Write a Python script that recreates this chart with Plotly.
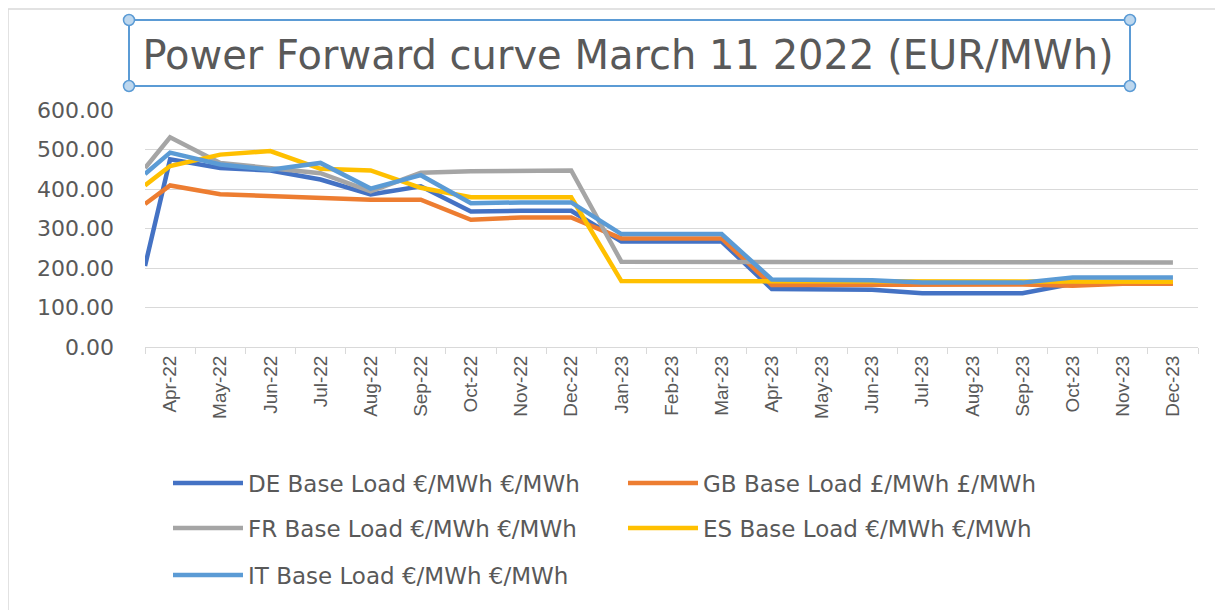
import plotly.graph_objects as go

# ---- data ----
month_labels = ["Apr-22", "May-22", "Jun-22", "Jul-22", "Aug-22", "Sep-22", "Oct-22",
                "Nov-22", "Dec-22", "Jan-23", "Feb-23", "Mar-23", "Apr-23", "May-23",
                "Jun-23", "Jul-23", "Aug-23", "Sep-23", "Oct-23", "Nov-23", "Dec-23"]
# first value is the front (spot) point plotted at the left edge of the axis
de_base = [205, 475, 453, 447, 424, 386, 407, 343, 345, 345, 267, 267, 267, 147, 147, 145, 136, 136, 136, 160, 162, 162]
gb_base = [362, 409, 387, 383, 379, 373, 373, 322, 328, 328, 275, 275, 275, 157, 157, 157, 158, 158, 158, 155, 160, 160]
fr_base = [453, 531, 466, 453, 440, 394, 441, 445, 447, 447, 216, 216, 216, 214, 214, 214, 214, 214, 214, 214, 214, 214]
es_base = [409, 458, 487, 496, 451, 447, 403, 379, 379, 379, 167, 167, 167, 167, 167, 167, 167, 167, 167, 165, 165, 165]
it_base = [438, 492, 462, 449, 466, 401, 435, 364, 366, 366, 286, 286, 286, 171, 171, 169, 163, 163, 163, 176, 176, 176]

series_names = ["DE Base Load €/MWh €/MWh", "GB Base Load £/MWh £/MWh",
                "FR Base Load €/MWh €/MWh", "ES Base Load €/MWh €/MWh",
                "IT Base Load €/MWh €/MWh"]
series_values = [de_base, gb_base, fr_base, es_base, it_base]
colors = ["#4472C4", "#ED7D31", "#A5A5A5", "#FFC000", "#5B9BD5"]
legend_ids = ["legend", "legend", "legend2", "legend2", "legend3"]

cat_index = list(range(len(month_labels)))
x_vals = [-0.5] + cat_index

fig = go.Figure()
for name, vals, col, lg in zip(series_names, series_values, colors, legend_ids):
    fig.add_trace(go.Scatter(x=x_vals, y=vals, mode="lines", name=name,
                             line=dict(color=col, width=4.5), legend=lg))

OFF = 8  # page body margin
W, H = 1223 - 2 * OFF, 610 - OFF
PL, PR, PT, PB = 145, 1198, 110, 347  # plot area in screen pixels
L, R, T = PL - OFF, W - (PR - OFF), PT - OFF
B = H - (PB - OFF)
pw, ph = PR - PL, PB - PT

def px(x):
    return (x - PL) / pw

def py(y):
    return (PB - y) / ph

legend_common = dict(orientation="h", xanchor="left", yanchor="middle",
                     entrywidth=370, entrywidthmode="pixels", itemwidth=70,
                     font=dict(family="DejaVu Sans", size=23, color="#595959"),
                     bgcolor="rgba(0,0,0,0)", traceorder="normal")

shapes = [
    # chart outer border (left and top)
    dict(type="line", xref="paper", yref="paper", x0=px(8), x1=px(1240), y0=py(9), y1=py(9),
         line=dict(color="#D9D9D9", width=1.5)),
    dict(type="line", xref="paper", yref="paper", x0=px(8), x1=px(8), y0=py(9), y1=py(620),
         line=dict(color="#D9D9D9", width=1.5)),
    # title selection box
    dict(type="rect", xref="paper", yref="paper", x0=px(129), x1=px(1130), y0=py(86), y1=py(20),
         line=dict(color="#5B9BD5", width=2)),
]
for cx in (129, 1130):
    for cy in (20, 86):
        shapes.append(dict(type="circle", xref="paper", yref="paper",
                           xsizemode="pixel", ysizemode="pixel",
                           xanchor=px(cx), yanchor=py(cy),
                           x0=-5.5, x1=5.5, y0=-5.5, y1=5.5,
                           fillcolor="#BDD7EE", line=dict(color="#5B9BD5", width=1.5)))

fig.update_layout(
    width=W, height=H,
    margin=dict(l=L, r=R, t=T, b=B, autoexpand=False),
    paper_bgcolor="white", plot_bgcolor="white",
    title=dict(text="Power Forward curve March 11 2022 (EUR/MWh)",
               x=(628 - OFF) / W, xanchor="center", y=1 - (55 - OFF) / H, yanchor="middle",
               font=dict(family="DejaVu Sans", size=40, color="#595959")),
    xaxis=dict(range=[-0.5, len(month_labels) - 0.5],
               tickmode="array", tickvals=cat_index, ticktext=month_labels,
               tickangle=-90, ticks="", showgrid=False, zeroline=False,
               showline=True, linecolor="#D9D9D9", linewidth=1,
               tickfont=dict(family="Liberation Sans", size=19, color="#595959"),
               minor=dict(ticks="outside", tick0=-0.5, dtick=1, ticklen=6,
                          tickcolor="#D9D9D9", tickwidth=1, showgrid=False),
               fixedrange=True),
    yaxis=dict(range=[0, 600], dtick=100, tickformat=".2f",
               showgrid=True, gridcolor="#D9D9D9", gridwidth=1, zeroline=False,
               showline=False, ticks="", ticklabelstandoff=30,
               tickfont=dict(family="DejaVu Sans", size=22, color="#595959"),
               fixedrange=True),
    legend=dict(x=px(168), y=py(483), **legend_common),
    legend2=dict(x=px(168), y=py(528), **legend_common),
    legend3=dict(x=px(168), y=py(575), **legend_common),
    shapes=shapes,
    showlegend=True,
)

fig.write_html("out.html")
